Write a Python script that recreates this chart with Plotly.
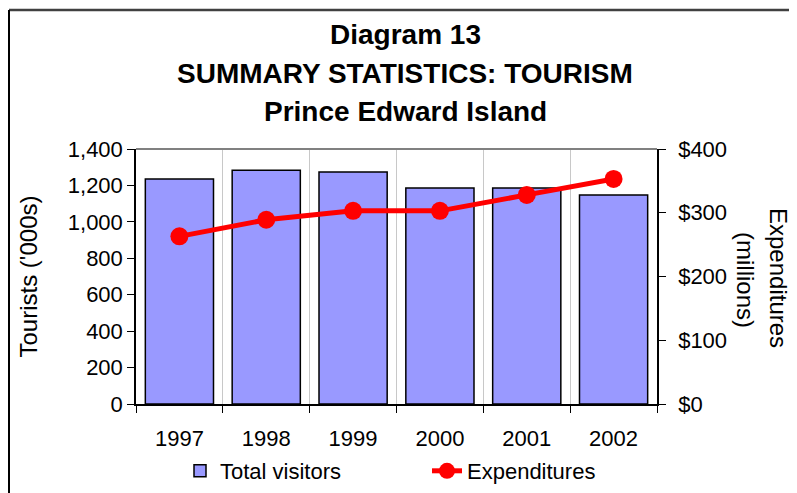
import plotly.graph_objects as go

years = ["1997", "1998", "1999", "2000", "2001", "2002"]
visitors = [1235, 1284, 1274, 1186, 1186, 1147]       # thousands
expenditures = [263, 289, 303, 303, 328, 353]        # $ millions
title_lines = ["Diagram 13", "SUMMARY STATISTICS: TOURISM", "Prince Edward Island"]

FONT = "Liberation Sans, Arial, sans-serif"
OFF = 8                      # page body margin of the html page
W, H = 797 - OFF, 493 - OFF
# plot area in page pixels: x 136..657, y 149..404
PL, PR, PT, PB = 136, 657, 149, 404
L, R, T, B = PL - OFF, W - (PR - OFF), PT - OFF, H - (PB - OFF)
PW, PH = PR - PL, PB - PT


def px(xp):
    return (xp - PL) / PW


def py(yp):
    return (PB - yp) / PH


fig = go.Figure()
fig.add_trace(go.Bar(
    x=years, y=visitors, name="Total visitors",
    marker=dict(color="#9999FF", line=dict(color="black", width=1.5)),
    yaxis="y",
))
fig.add_trace(go.Scatter(
    x=years, y=expenditures, name="Expenditures", mode="lines+markers",
    line=dict(color="#FF0000", width=5),
    marker=dict(color="#FF0000", size=18),
    yaxis="y2",
))

annotations = []
for txt, ycen in zip(title_lines, [34, 74, 111]):
    annotations.append(dict(text="<b>%s</b>" % txt, x=px(405), y=py(ycen), xref="paper", yref="paper",
                            showarrow=False, xanchor="center", yanchor="middle",
                            font=dict(size=28, color="black", family=FONT)))
annotations.append(dict(text="Expenditures", x=px(779), y=py(278), xref="paper", yref="paper",
                        showarrow=False, textangle=90, xanchor="center", yanchor="middle",
                        font=dict(size=24, color="black", family=FONT)))
annotations.append(dict(text="(millions)", x=px(746), y=py(280), xref="paper", yref="paper",
                        showarrow=False, textangle=90, xanchor="center", yanchor="middle",
                        font=dict(size=24, color="black", family=FONT)))

shapes = [
    # top border of plot area (gray)
    dict(type="line", xref="paper", yref="paper", x0=0, x1=1, y0=1, y1=1,
         line=dict(color="#808080", width=2)),
    # outer chart frame (top and left edges visible)
    dict(type="line", xref="paper", yref="paper", x0=px(9), x1=px(800), y0=py(10), y1=py(10),
         line=dict(color="#404040", width=2.5)),
    dict(type="line", xref="paper", yref="paper", x0=px(9), x1=px(9), y0=py(10), y1=py(500),
         line=dict(color="black", width=2)),
]

fig.update_layout(
    width=W, height=H,
    margin=dict(l=L, r=R, t=T, b=B, pad=0, autoexpand=False),
    paper_bgcolor="white", plot_bgcolor="white",
    font=dict(family=FONT, size=22, color="black"),
    bargap=0.215,
    showlegend=True,
    legend=dict(orientation="h", x=px(180), y=py(471), xanchor="left", yanchor="middle",
                font=dict(size=22), bgcolor="rgba(0,0,0,0)", entrywidth=202, entrywidthmode="pixels"),
    xaxis=dict(type="category", tickson="boundaries", ticks="outside", ticklen=7, tickcolor="black",
               showline=True, linecolor="black", linewidth=1.5, showgrid=True, gridcolor="#C8C8C8",
               gridwidth=1, ticklabelstandoff=14, tickfont=dict(size=22), automargin=False),
    yaxis=dict(range=[0, 1400], dtick=200, tickformat=",", ticks="outside", ticklen=7, tickcolor="black",
               showline=True, linecolor="black", linewidth=1.5, showgrid=False, zeroline=False,
               title=dict(text="Tourists ('000s)", standoff=23, font=dict(size=24)),
               tickfont=dict(size=22), automargin=False),
    yaxis2=dict(range=[0, 400], dtick=100, tickprefix="$", overlaying="y", side="right",
                ticks="outside", ticklen=7, tickcolor="black", showline=True, linecolor="black",
                linewidth=1.5, showgrid=False, zeroline=False, ticklabelstandoff=8,
                tickfont=dict(size=22), automargin=False),
    annotations=annotations,
    shapes=shapes,
)

fig.write_html("out.html")
